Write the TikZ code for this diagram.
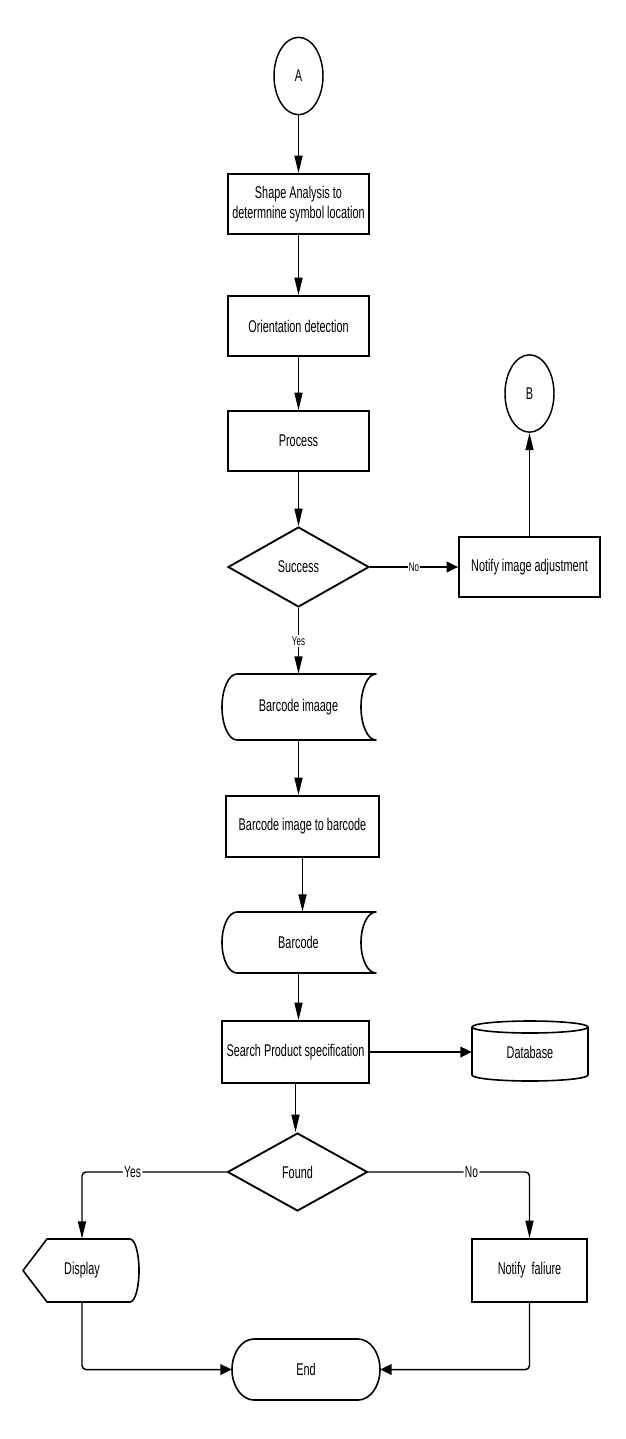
\documentclass[tikz,border=0pt]{standalone}
\usepackage{fontspec}
\setmainfont[FakeStretch=0.64]{Liberation Sans}
\usetikzlibrary{shapes.geometric,arrows.meta}
\begin{document}
\begin{tikzpicture}[x=0.75pt,y=-0.75pt,
  font=\fontsize{12.75}{15}\selectfont,
  stepbox/.style={draw, line width=1.4pt, minimum width=105.75pt, minimum height=45pt, inner sep=0pt, align=center},
  decbox/.style={diamond, draw, line width=1.4pt, inner sep=0pt},
  connA/.style={draw, ellipse, line width=1.1pt, minimum width=36.75pt, minimum height=58pt, inner sep=0pt},
  txtonly/.style={inner sep=0pt},
  shapeln/.style={line width=1.2pt, line join=round},
  linkln/.style={line width=1.1pt},
  vtip/.style={-{Triangle[length=13pt,width=6pt]}},
  htip/.style={-{Triangle[length=8.5pt,width=8pt]}},
  lblsm/.style={fill=white, inner sep=1pt, font=\fontsize{9.4}{11}\selectfont},
  lblbg/.style={fill=white, inner sep=1pt, font=\fontsize{12}{14}\selectfont}
]
\fill[white] (0,0) rectangle (625,1439);
\useasboundingbox (0,0) rectangle (625,1439);

% nodes
\node[connA] (A) at (298.5,76) {A};
\node[stepbox] (s1) at (298.5,204) {Shape Analysis to\\determnine symbol location};
\node[stepbox] (s2) at (298.5,326) {Orientation detection};
\node[stepbox] (s3) at (298.5,441) {Process};
\node[decbox, minimum width=105.75pt, minimum height=60pt] (succ) at (298.5,567) {Success};
\node[stepbox] (adj) at (529.5,567) {Notify image adjustment};
\node[connA] (B) at (529.5,393.5) {B};

\node[txtonly, minimum width=115.5pt, minimum height=49.5pt] (bimg) at (298.5,707) {Barcode imaage};
\draw[shapeln] (237,674) -- (376,674) arc[start angle=270,end angle=90,x radius=15,y radius=33]
  -- (237,740) arc[start angle=90,end angle=270,x radius=15,y radius=33] -- cycle;

\node[stepbox, minimum width=114.75pt, minimum height=45.75pt] (b2b) at (302.5,826.5) {Barcode image to barcode};

\node[txtonly, minimum width=115.5pt, minimum height=45.75pt] (bc) at (298.5,942.5) {Barcode};
\draw[shapeln] (237,912) -- (376,912) arc[start angle=270,end angle=90,x radius=15,y radius=30.5]
  -- (237,973) arc[start angle=90,end angle=270,x radius=15,y radius=30.5] -- cycle;

\node[stepbox, minimum width=110.25pt, minimum height=46.5pt] (srch) at (295.5,1052) {Search Product specification};

\node[txtonly, minimum width=87pt, minimum height=45pt] (db) at (530,1052) {Database};
\draw[shapeln] (472,1027) -- (472,1075) arc[start angle=180,end angle=0,x radius=58,y radius=6] -- (588,1027);
\draw[shapeln] (530,1027) ellipse[x radius=58,y radius=6];

\node[decbox, minimum width=105pt, minimum height=58.5pt] (fnd) at (297.5,1172) {Found};

\node[txtonly, minimum width=87pt, minimum height=47.25pt] (disp) at (82,1270.5) {Display};
\draw[shapeln] (47,1239) -- (130,1239) arc[start angle=-90,end angle=90,x radius=9,y radius=31.5]
  -- (47,1302) -- (23,1270.5) -- cycle;

\node[stepbox, minimum width=86.25pt, minimum height=47.25pt] (fail) at (529.5,1270.5) {Notify\ \ faliure};

\node[txtonly, minimum width=111pt, minimum height=45.75pt] (endn) at (306,1369.5) {End};
\draw[shapeln] (254,1339) -- (358,1339) arc[start angle=-90,end angle=90,x radius=22,y radius=30.5]
  -- (254,1400) arc[start angle=90,end angle=270,x radius=22,y radius=30.5] -- cycle;

% connectors
\draw[linkln,vtip] (A) -- (s1);
\draw[linkln,vtip] (s1) -- (s2);
\draw[linkln,vtip] (s2) -- (s3);
\draw[linkln,vtip] (s3) -- (succ);
\draw[linkln,htip] (succ) -- node[lblsm]{No} (adj);
\draw[linkln,vtip] (adj) -- (B);
\draw[linkln,vtip] (succ.south) -- node[lblsm]{Yes} (succ.south |- bimg.north);
\draw[linkln,vtip] (bimg.south) -- (bimg.south |- b2b.north);
\draw[linkln,vtip] (b2b.south) -- (b2b.south |- bc.north);
\draw[linkln,vtip] (bc.south) -- (bc.south |- srch.north);
\draw[linkln,htip] (srch) -- (db);
\draw[linkln,vtip] (srch.south) -- (srch.south |- fnd.north);
\draw[linkln,vtip,rounded corners=3pt] (fnd.west) -| node[lblbg,pos=0.325]{Yes} (disp.north);
\draw[linkln,vtip,rounded corners=3pt] (fnd.east) -| node[lblbg,pos=0.32]{No} (fail.north);
\draw[linkln,htip,rounded corners=3pt] (disp.south) |- (endn.west);
\draw[linkln,htip,rounded corners=3pt] (fail.south) |- (endn.east);
\end{tikzpicture}
\end{document}
